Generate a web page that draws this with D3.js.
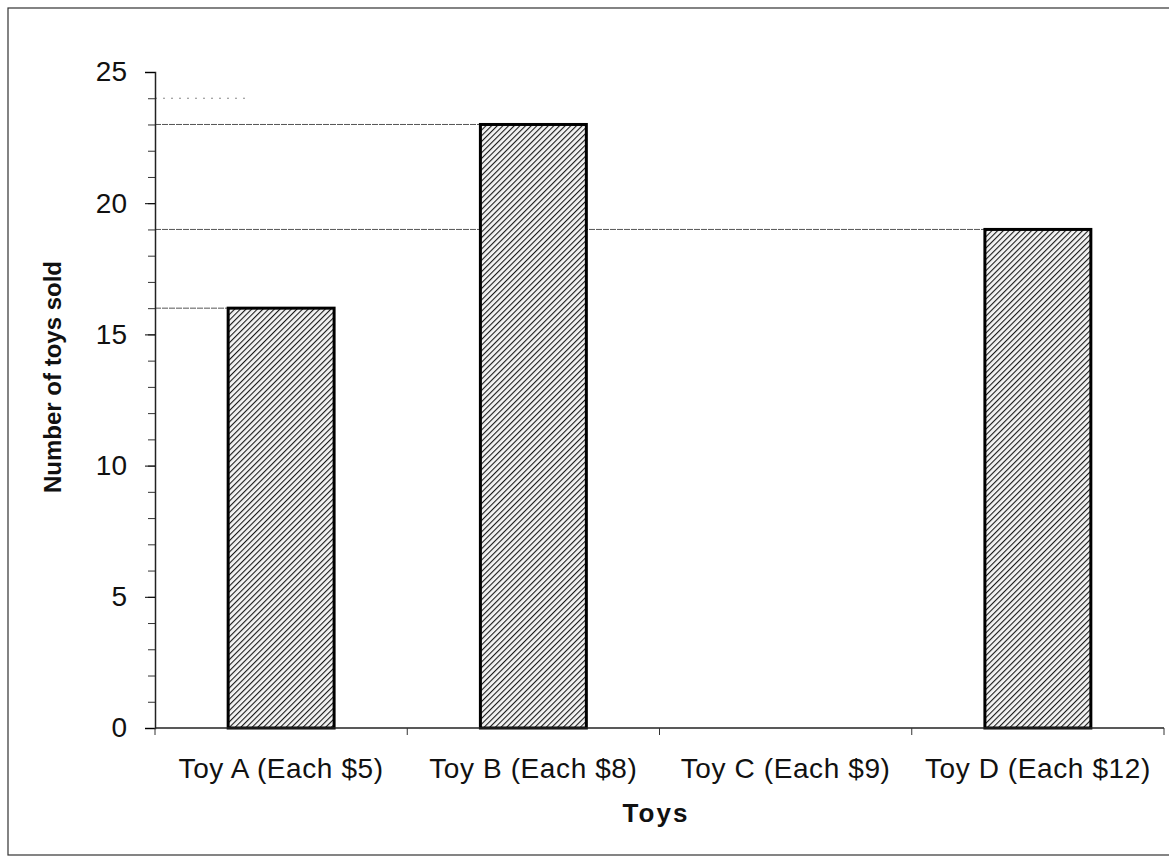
<!DOCTYPE html>
<html>
<head>
<meta charset="utf-8">
<script src="https://cdn.jsdelivr.net/npm/d3@7"></script>
<style>
  body { margin: 0; background: #fff; }
  svg { display: block; font-family: "Liberation Sans", Arial, sans-serif; }
</style>
</head>
<body>
<div id="chart"></div>
<script>
var w = 1169;
var h = 863;

var toys = ["Toy A (Each $5)", "Toy B (Each $8)", "Toy C (Each $9)", "Toy D (Each $12)"];
var sold = [16, 23, 0, 19];
var yTicks = [0, 5, 10, 15, 20, 25];

var padLeft = 155, padRight = 1164, padTop = 72, padBottom = 728;

var xScale = d3.scaleBand()
               .domain(toys)
               .range([padLeft, padRight])
               .paddingInner(0.58)
               .paddingOuter(0.29);

var yScale = d3.scaleLinear()
               .domain([0, 25])
               .range([padBottom, padTop]);

var svg = d3.select("#chart")
            .append("svg")
            .attr("width", w)
            .attr("height", h);

var pat = svg.append("defs")
   .append("pattern")
   .attr("id", "hatch")
   .attr("patternUnits", "userSpaceOnUse")
   .attr("width", 4)
   .attr("height", 4)
   .attr("patternTransform", "rotate(45)");
pat.append("rect").attr("width", 4).attr("height", 4).attr("fill", "#f4f4f4");
pat.append("line")
   .attr("x1", 0).attr("y1", 0).attr("x2", 0).attr("y2", 4)
   .attr("stroke", "#1a1a1a").attr("stroke-width", 2.2);

// outer frame of the scanned page
svg.append("rect")
   .attr("x", 8).attr("y", 8)
   .attr("width", w + 10).attr("height", 847)
   .attr("fill", "none")
   .attr("stroke", "#333")
   .attr("stroke-width", 1.2);

// pencil guide lines from the axis to each bar top
svg.append("g")
   .selectAll("line")
   .data(toys.filter(function(d, i) { return sold[i] > 0; }))
   .enter()
   .append("line")
   .attr("x1", padLeft)
   .attr("x2", function(d) { return xScale(d); })
   .attr("y1", function(d) { return yScale(sold[toys.indexOf(d)]); })
   .attr("y2", function(d) { return yScale(sold[toys.indexOf(d)]); })
   .attr("stroke", "#555")
   .attr("stroke-width", 1)
   .attr("stroke-dasharray", "6,1");

svg.append("line")
   .attr("x1", padLeft).attr("x2", 245)
   .attr("y1", yScale(24)).attr("y2", yScale(24))
   .attr("stroke", "#888")
   .attr("stroke-width", 1)
   .attr("stroke-dasharray", "2,6");

svg.append("g")
   .selectAll("rect")
   .data(toys)
   .enter()
   .append("rect")
   .attr("x", function(d) { return xScale(d); })
   .attr("y", function(d, i) { return yScale(sold[i]); })
   .attr("width", xScale.bandwidth())
   .attr("height", function(d, i) { return padBottom - yScale(sold[i]); })
   .attr("fill", "url(#hatch)")
   .attr("stroke", "#000")
   .attr("stroke-width", function(d, i) { return sold[i] > 0 ? 3 : 0; });

// y axis with minor ticks every unit
var yMinor = d3.axisLeft(yScale).ticks(25).tickSize(7).tickFormat("");
svg.append("g")
   .attr("transform", "translate(" + padLeft + ",0)")
   .call(yMinor)
   .call(function(g) { g.select(".domain").remove(); })
   .selectAll("line").attr("stroke", "#333");

var yAxis = d3.axisLeft(yScale)
              .tickValues(yTicks)
              .tickSize(10)
              .tickPadding(18);
var gy = svg.append("g")
   .attr("class", "y axis")
   .attr("transform", "translate(" + padLeft + ",0)")
   .call(yAxis);
gy.select(".domain").attr("stroke", "#222").attr("stroke-width", 1.5);
gy.selectAll("text").attr("font-size", 28).attr("fill", "#111")
  .attr("font-family", "Liberation Sans, Arial, sans-serif");

// x axis with ticks at band edges
var gx = svg.append("g")
   .attr("class", "x axis")
   .attr("transform", "translate(0," + padBottom + ")");
gx.append("line")
   .attr("x1", padLeft).attr("x2", padRight)
   .attr("stroke", "#222").attr("stroke-width", 1.5);
gx.selectAll(".edge")
   .data(toys.concat(["end"]))
   .enter()
   .append("line")
   .attr("class", "edge")
   .attr("x1", function(d, i) { return padLeft + i * (padRight - padLeft) / toys.length; })
   .attr("x2", function(d, i) { return padLeft + i * (padRight - padLeft) / toys.length; })
   .attr("y1", 0).attr("y2", 7)
   .attr("stroke", "#333");
gx.selectAll("text")
   .data(toys)
   .enter()
   .append("text")
   .attr("x", function(d) { return xScale(d) + xScale.bandwidth() / 2; })
   .attr("y", 50)
   .attr("text-anchor", "middle")
   .attr("font-size", 28)
   .attr("letter-spacing", 0.6)
   .attr("fill", "#111")
   .text(function(d) { return d; });

svg.append("text")
   .attr("x", 656)
   .attr("y", 822)
   .attr("text-anchor", "middle")
   .attr("font-size", 26)
   .attr("font-weight", "bold")
   .attr("letter-spacing", 2)
   .attr("fill", "#111")
   .text("Toys");

svg.append("text")
   .attr("transform", "translate(61,377) rotate(-90)")
   .attr("text-anchor", "middle")
   .attr("font-size", 24)
   .attr("font-weight", "bold")
   .attr("fill", "#111")
   .text("Number of toys sold");
</script>
</body>
</html>
